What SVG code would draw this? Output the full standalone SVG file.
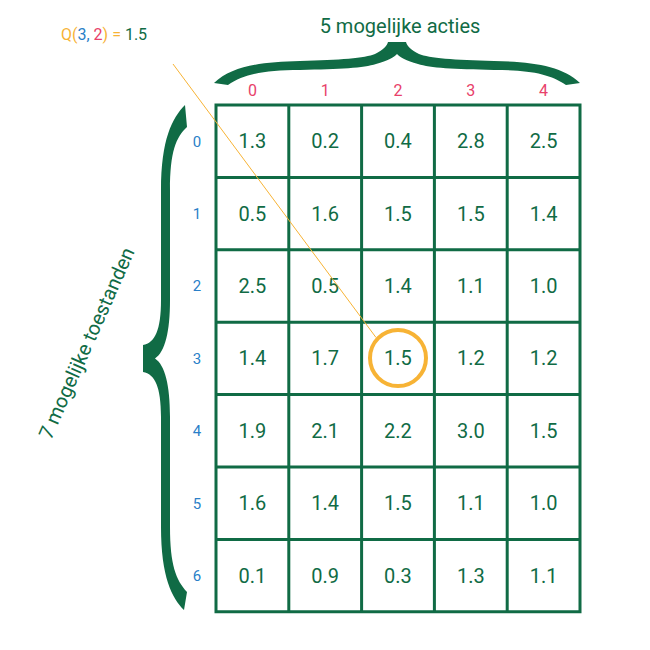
<svg xmlns="http://www.w3.org/2000/svg" width="650" height="650" viewBox="0 0 650 650">
<style>
text{font-family:Roboto,"Liberation Sans",sans-serif}
.v{font-size:20px;fill:#106b45;text-anchor:middle}
.col{font-size:16px;fill:#e8416a;text-anchor:middle}
.row{font-size:15px;fill:#2a7fc8;text-anchor:middle}
.brace{fill:#106b45}
.grid{fill:none;stroke:#106b45;stroke-width:3}
.o{fill:#f7b335}.b{fill:#2a7fc8}.p{fill:#e8416a}.g{fill:#106b45}
</style>
<rect width="650" height="650" fill="#fff"/>
<g id="q-label"><text x="61" y="39.5" font-size="16"><tspan class="o">Q(</tspan><tspan class="b">3,</tspan><tspan class="p"> 2</tspan><tspan class="o">) =</tspan><tspan class="g"> 1.5</tspan></text></g>
<g id="title-actions">
<text x="400" y="33" font-size="20" fill="#106b45" text-anchor="middle">5 mogelijke acties</text>
<path class="brace" d="M214,83 C232,66 260,62 300,61 C340,60 365,58 375,54 C383,50 387,46 388,42 L406,42 C407,46 411,50 419,54 C429,58 454,60 494,61 C534,62 562,66 580,83 L566,85 C550,74 530,70 494,70 C454,69 430,68 418,64 C406,61 400,57 397,54 C394,57 388,61 376,64 C364,68 340,69 300,70 C264,70 244,74 228,85 Z"/>
</g>
<g id="title-states">
<text transform="translate(93,346) rotate(-66)" font-size="20" fill="#106b45" text-anchor="middle">7 mogelijke toestanden</text>
<path class="brace" d="M185,105 C172,118 161,140 161,190 L161,300 C161,330 155,343 143,345 L143,372 C155,374 161,387 161,417 L161,527 C161,577 172,598 184,610 L187,592 C176,580 170,565 170,527 L170,417 C170,385 165,365 155,358.5 C165,352 170,332 170,300 L170,190 C170,152 176,137 187,127 Z"/>
</g>
<g id="col-labels">
<text class="col" x="252.4" y="96">0</text>
<text class="col" x="325.2" y="96">1</text>
<text class="col" x="398" y="96">2</text>
<text class="col" x="470.8" y="96">3</text>
<text class="col" x="543.6" y="96">4</text>
</g>
<g id="row-labels">
<text class="row" x="197" y="146.5">0</text>
<text class="row" x="197" y="218.9">1</text>
<text class="row" x="197" y="291.3">2</text>
<text class="row" x="197" y="363.7">3</text>
<text class="row" x="197" y="436.1">4</text>
<text class="row" x="197" y="508.5">5</text>
<text class="row" x="197" y="580.9">6</text>
</g>
<g id="grid">
<path class="grid" d="M216,105H580V611.8H216Z M288.8,105V611.8 M361.6,105V611.8 M434.4,105V611.8 M507.2,105V611.8 M216,177.4H580 M216,249.8H580 M216,322.2H580 M216,394.6H580 M216,467H580 M216,539.4H580"/>
</g>
<g id="values">
<text class="v" x="252.4" y="148.2">1.3</text><text class="v" x="325.2" y="148.2">0.2</text><text class="v" x="398" y="148.2">0.4</text><text class="v" x="470.8" y="148.2">2.8</text><text class="v" x="543.6" y="148.2">2.5</text>
<text class="v" x="252.4" y="220.6">0.5</text><text class="v" x="325.2" y="220.6">1.6</text><text class="v" x="398" y="220.6">1.5</text><text class="v" x="470.8" y="220.6">1.5</text><text class="v" x="543.6" y="220.6">1.4</text>
<text class="v" x="252.4" y="293">2.5</text><text class="v" x="325.2" y="293">0.5</text><text class="v" x="398" y="293">1.4</text><text class="v" x="470.8" y="293">1.1</text><text class="v" x="543.6" y="293">1.0</text>
<text class="v" x="252.4" y="365.4">1.4</text><text class="v" x="325.2" y="365.4">1.7</text><text class="v" x="398" y="365.4">1.5</text><text class="v" x="470.8" y="365.4">1.2</text><text class="v" x="543.6" y="365.4">1.2</text>
<text class="v" x="252.4" y="437.8">1.9</text><text class="v" x="325.2" y="437.8">2.1</text><text class="v" x="398" y="437.8">2.2</text><text class="v" x="470.8" y="437.8">3.0</text><text class="v" x="543.6" y="437.8">1.5</text>
<text class="v" x="252.4" y="510.2">1.6</text><text class="v" x="325.2" y="510.2">1.4</text><text class="v" x="398" y="510.2">1.5</text><text class="v" x="470.8" y="510.2">1.1</text><text class="v" x="543.6" y="510.2">1.0</text>
<text class="v" x="252.4" y="582.6">0.1</text><text class="v" x="325.2" y="582.6">0.9</text><text class="v" x="398" y="582.6">0.3</text><text class="v" x="470.8" y="582.6">1.3</text><text class="v" x="543.6" y="582.6">1.1</text>
</g>
<g id="connectors">
<line x1="173" y1="64" x2="376" y2="337.5" stroke="#f7b335" stroke-width="1"/>
<circle cx="398" cy="358" r="28" fill="none" stroke="#f7b335" stroke-width="4"/>
</g>
</svg>
